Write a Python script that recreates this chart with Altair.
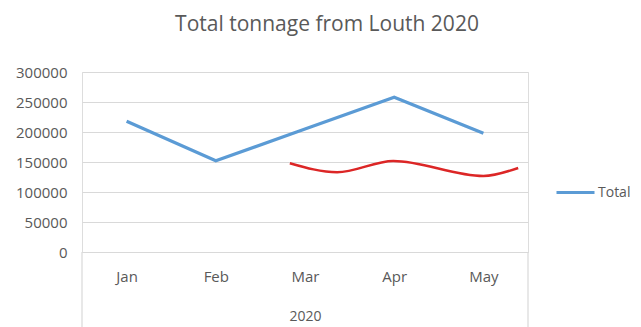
import altair as alt
import pandas as pd

months = ["Jan", "Feb", "Mar", "Apr", "May"]
month_pos = [0, 1, 2, 3, 4]
total = [218000, 152000, 205000, 258000, 198000]

# red free-hand curve (positions in month units)
red_pos = [1.83, 2.36, 2.99, 4.0, 4.39]
red_val = [148000, 133000, 151700, 126700, 140000]

edges = [-0.5, 4.5]
y_ticks = [0, 50000, 100000, 150000, 200000, 250000, 300000]

blue_df = pd.DataFrame({"pos": month_pos, "value": total, "series": ["Total"] * 5})
red_df = pd.DataFrame({"pos": red_pos, "value": red_val})
edge_df = pd.DataFrame({"pos": edges, "value": [0, 0]})

FONT = "Open Sans"
GREY = "#595959"

label_expr = "['Jan','Feb','Mar','Apr','May'][datum.value]"

xscale = alt.Scale(domain=[-0.5, 4.5], nice=False, zero=False)
yscale = alt.Scale(domain=[0, 300000], nice=False)

xaxis = alt.Axis(
    values=month_pos, labelExpr=label_expr, title="2020", grid=False, ticks=False,
    domain=False, labelPadding=17, labelFontSize=15, labelColor=GREY, labelFont=FONT,
    titleFontSize=14, titleColor=GREY, titleFont=FONT, titleFontWeight="normal",
    titlePadding=25, labelOverlap=False,
)
yaxis = alt.Axis(
    values=y_ticks, format="d", tickCount=7,
    title=None, grid=True, gridColor="#d9d9d9", gridWidth=1, ticks=False, domain=False,
    labelPadding=15, labelFontSize=15, labelColor=GREY, labelFont=FONT,
    labelOverlap=False,
)

X = alt.X("pos:Q", scale=xscale, axis=xaxis)
Y = alt.Y("value:Q", scale=yscale, axis=yaxis)

blue = alt.Chart(blue_df).mark_line(strokeWidth=3.2).encode(
    x=X,
    y=Y,
    color=alt.Color(
        "series:N",
        scale=alt.Scale(domain=["Total"], range=["#5b9bd5"]),
        legend=alt.Legend(
            title=None, orient="none", legendX=473, legendY=100,
            symbolType="stroke", symbolSize=1444, symbolStrokeWidth=3,
            labelFontSize=14, labelColor=GREY, labelFont=FONT, labelOffset=2,
        ),
    ),
)

red = alt.Chart(red_df).mark_line(strokeWidth=2.5, color="#dc2626", interpolate="monotone").encode(
    x=X,
    y=Y,
)

frame = alt.Chart(edge_df).mark_rule(color="#d9d9d9", strokeWidth=1.2, clip=False).encode(
    x=X,
    y=alt.value(180),
    y2=alt.value(260),
)

chart = alt.layer(frame, blue, red).properties(
    width=446,
    height=180,
    padding={"left": 82, "top": 72, "right": 113, "bottom": 75},
    autosize=alt.AutoSizeParams(type="none"),
    title=alt.TitleParams(
        "Total tonnage from Louth 2020", fontSize=21, color=GREY, font=FONT,
        fontWeight="normal", anchor="middle", dx=22, offset=30,
    ),
).configure_view(stroke=None).configure(background="white")

chart.save("out.html", embed_options={"renderer": "svg", "actions": False})
